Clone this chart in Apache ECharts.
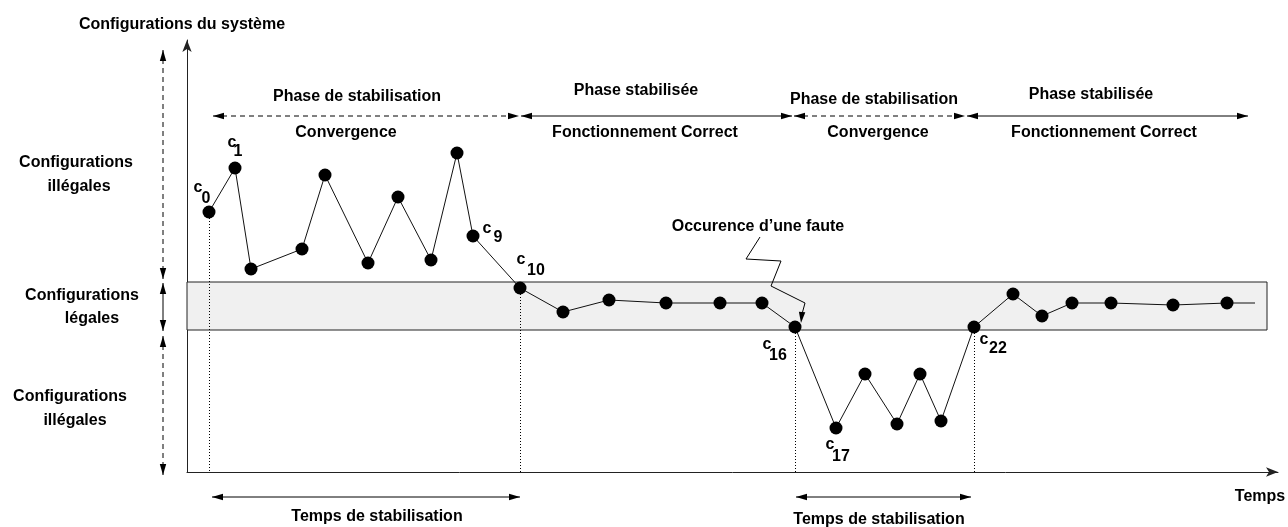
<!DOCTYPE html>
<html>
<head>
<meta charset="utf-8">
<script src="https://cdn.jsdelivr.net/npm/echarts@6/dist/echarts.min.js"></script>
<style>
html,body{margin:0;padding:0;background:#fff;}
#main{width:1288px;height:527px;}
</style>
</head>
<body>
<div id="main"></div>
<script>
// ---- data (time units along x, configuration level along y) ----
const times  = [22, 48, 64, 115, 138, 181, 211, 244, 270, 286, 333, 376, 422, 479, 533, 575, 608, 649, 678, 710, 733, 754, 787, 826, 855, 885, 924, 986, 1040, 1068];
const states = [260, 304, 203, 223, 297, 209, 275, 212, 319, 236, 184, 160, 172, 169, 169, 169, 145, 44, 98, 48, 98, 51, 145, 178, 156, 169, 169, 167, 169, 169];
// named configurations (index into the arrays above)
const namedIdx   = [0, 1, 9, 10, 16, 17, 22];
const namedSub   = ['0', '1', '9', '10', '16', '17', '22'];
// legal band
const legalLow = 142, legalHigh = 190, bandEnd = 1080;
// dotted markers (start/end of stabilisation)
const markIdx = [0, 10, 16, 22];

const FONT = 'Liberation Sans';
const chart = echarts.init(document.getElementById('main'), null, {renderer: 'canvas'});

const lineData = times.map((t, i) => {
  const item = {value: [t, states[i]]};
  if (i === times.length - 1) item.symbol = 'none';
  return item;
});

const axisCommon = {
  type: 'value',
  axisLine: {show: true, symbol: ['none', 'arrow'], symbolSize: [7, 12], lineStyle: {color: '#222', width: 1}},
  axisTick: {show: false}, axisLabel: {show: false}, splitLine: {show: false}
};

chart.setOption({
  animation: false,
  backgroundColor: '#fff',
  grid: {left: 187, right: 10, top: 40, bottom: 55},
  xAxis: Object.assign({min: 0, max: 1091}, axisCommon),
  yAxis: Object.assign({min: 0, max: 432}, axisCommon),
  series: [
    {
      type: 'line', z: 1, data: [], silent: true,
      markArea: {
        silent: true,
        itemStyle: {color: '#f0f0f0', borderColor: '#222', borderWidth: 1},
        data: [[{coord: [0, legalLow]}, {coord: [bandEnd, legalHigh]}]]
      },
      markLine: {
        silent: true, symbol: ['none', 'none'], label: {show: false},
        lineStyle: {type: [1, 2], color: '#000', width: 1},
        data: markIdx.map(i => [{coord: [times[i], states[i]]}, {coord: [times[i], 0]}])
      }
    },
    {
      type: 'line', z: 3, data: lineData,
      symbol: 'circle', symbolSize: 13,
      itemStyle: {color: '#000'},
      lineStyle: {color: '#111', width: 1}
    }
  ]
});

// ---- annotations ----
const g = [];
function txt(t, x, y, size, align) {
  g.push({type: 'text', z: 10, style: {text: t, x: x, y: y, align: align || 'center', verticalAlign: 'middle',
    fontSize: size || 16, fontWeight: 'bold', fontFamily: FONT, fill: '#000'}});
}
function head(tx, ty, dx, dy) {
  const L = 11, w = 3.2;
  const bx = tx - L * dx, by = ty - L * dy;
  const nx = -dy, ny = dx;
  g.push({type: 'polygon', z: 10, shape: {points: [[tx, ty], [bx + w * nx, by + w * ny], [bx - w * nx, by - w * ny]]},
    style: {fill: '#000'}});
}
function arrow(x1, y1, x2, y2, dashed, heads) {
  const len = Math.hypot(x2 - x1, y2 - y1), dx = (x2 - x1) / len, dy = (y2 - y1) / len;
  g.push({type: 'line', z: 10, shape: {x1: x1, y1: y1, x2: x2, y2: y2},
    style: {stroke: '#000', lineWidth: 1, lineDash: dashed ? [5, 4] : null}});
  if (heads !== 'end') head(x1, y1, -dx, -dy);
  head(x2, y2, dx, dy);
}

// y axis title
txt('Configurations du système', 182, 25);
// left region labels
txt('Configurations', 76, 163); txt('illégales', 79, 187);
txt('Configurations', 82, 296); txt('légales', 92, 319);
txt('Configurations', 70, 397); txt('illégales', 75, 421);
// left vertical arrows
arrow(163, 50, 163, 279, true);
arrow(163, 283, 163, 331, false);
arrow(163, 336, 163, 475, true);

// phase arrows
arrow(213, 116, 519, 116, true);
arrow(521, 116, 792, 116, false);
arrow(794, 116, 965, 116, true);
arrow(967, 116, 1248, 116, false);
txt('Phase de stabilisation', 357, 97); txt('Convergence', 346, 133);
txt('Phase stabilisée', 636, 91); txt('Fonctionnement Correct', 645, 133);
txt('Phase de stabilisation', 874, 100); txt('Convergence', 878, 133);
txt('Phase stabilisée', 1091, 95); txt('Fonctionnement Correct', 1104, 133);

// fault annotation
txt('Occurence d\u2019une faute', 758, 227);
g.push({type: 'polyline', z: 10, shape: {points: [[760, 237], [746, 259], [781, 261], [771, 286], [805, 303], [802, 314]]},
  style: {stroke: '#000', lineWidth: 1, fill: null}});
head(801, 323, -0.1, 1);

// bottom
arrow(212, 497, 520, 497, false);
arrow(796, 497, 971, 497, false);
txt('Temps de stabilisation', 377, 517);
txt('Temps de stabilisation', 879, 520);
txt('Temps', 1260, 497);

// named configuration labels (c with subscript), placed relative to the points
const offs = {
  0: [[-11, -24], [-3, -13]], 1: [[-3, -25], [3, -16]], 9: [[14, -7], [25, 2]],
  10: [[1, -28], [16, -17]], 16: [[-28, 18], [-17, 29]], 17: [[-6, 17], [5, 29]], 22: [[10, 13], [24, 22]]
};
namedIdx.forEach((i, k) => {
  const p = chart.convertToPixel({gridIndex: 0}, [times[i], states[i]]);
  const o = offs[i];
  txt('c', p[0] + o[0][0], p[1] + o[0][1], 16);
  txt(namedSub[k], p[0] + o[1][0], p[1] + o[1][1], 16);
});

chart.setOption({graphic: g});
</script>
</body>
</html>
